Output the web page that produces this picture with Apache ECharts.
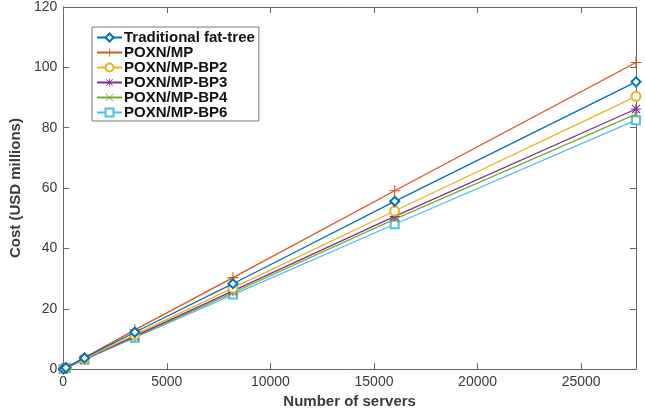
<!DOCTYPE html>
<html>
<head>
<meta charset="utf-8">
<script src="https://cdn.jsdelivr.net/npm/echarts@6/dist/echarts.min.js"></script>
<style>html,body{margin:0;padding:0;background:#fff}#c{width:645px;height:414px}</style>
</head>
<body>
<div id="c"></div>
<script>
const servers = [16, 128, 1024, 3456, 8192, 16000, 27648];
const seriesNames = ['Traditional fat-tree', 'POXN/MP', 'POXN/MP-BP2', 'POXN/MP-BP3', 'POXN/MP-BP4', 'POXN/MP-BP6'];
const traditional = [0.06, 0.46, 3.7, 12.2, 28.3, 55.6, 95.2];
const poxnMP = [0.06, 0.48, 3.8, 13.0, 30.3, 59.1, 101.6];
const poxnBP2 = [0.05, 0.43, 3.4, 11.4, 26.9, 52.4, 90.4];
const poxnBP3 = [0.05, 0.41, 3.3, 10.9, 25.9, 50.6, 86.2];
const poxnBP4 = [0.05, 0.40, 3.2, 10.7, 25.3, 49.7, 84.5];
const poxnBP6 = [0.05, 0.39, 3.1, 10.4, 24.7, 48.0, 82.5];
const yTicks = [0, 20, 40, 60, 80, 100, 120];
const xTicks = [0, 5000, 10000, 15000, 20000, 25000];

const colors = ['#0072BD', '#D95319', '#EDB120', '#7E2F8E', '#77AC30', '#4DBEEE'];
const plusPath = 'path://M0,4.5 L10,4.5 L10,5.5 L0,5.5 Z M4.5,0 L5.5,0 L5.5,10 L4.5,10 Z';
const xPath = 'path://M0.7,0 L5,4.3 L9.3,0 L10,0.7 L5.7,5 L10,9.3 L9.3,10 L5,5.7 L0.7,10 L0,9.3 L4.3,5 L0,0.7 Z';
const starPath = 'path://M0,4.5 L10,4.5 L10,5.5 L0,5.5 Z M4.5,0 L5.5,0 L5.5,10 L4.5,10 Z M1.3,0.6 L5,4.3 L8.7,0.6 L9.4,1.3 L5.7,5 L9.4,8.7 L8.7,9.4 L5,5.7 L1.3,9.4 L0.6,8.7 L4.3,5 L0.6,1.3 Z';
const symbols = ['emptyDiamond', plusPath, 'emptyCircle', starPath, xPath, 'emptyRect'];
const symSizes = [9, 11, 9, 10, 8, 8];
const symBorder = [1, 0, 1, 0, 0, 1];
const dataSets = [traditional, poxnMP, poxnBP2, poxnBP3, poxnBP4, poxnBP6];

const axisCol = '#666';
const labelCol = '#3a3a3a';

function axisBase(extra) {
  return Object.assign({
    type: 'value',
    axisLine: {show: true, onZero: false, lineStyle: {color: axisCol}},
    axisTick: {show: true, inside: true, length: 6, lineStyle: {color: axisCol}},
    splitLine: {show: false}
  }, extra);
}

const chart = echarts.init(document.getElementById('c'), null, {renderer: 'canvas'});
chart.setOption({
  animation: false,
  backgroundColor: '#fff',
  textStyle: {fontFamily: 'Liberation Sans, Arial, sans-serif'},
  grid: {left: 62, right: 9, top: 6, bottom: 42, containLabel: false},
  legend: {
    orient: 'vertical', left: 92, top: 27,
    padding: [3, 4, 1, 4],
    itemGap: 0, itemWidth: 25, itemHeight: 10,
    borderColor: '#777', borderWidth: 1, backgroundColor: '#fff',
    textStyle: {fontSize: 15, fontWeight: 'bold', color: '#111', lineHeight: 14, padding: [0, 0, 0, -3]},
    data: seriesNames
  },
  xAxis: [axisBase({
    min: 0, max: 27648, interval: 5000,
    name: 'Number of servers', nameLocation: 'middle', nameGap: 15,
    nameTextStyle: {fontSize: 15, fontWeight: 'bold', color: labelCol},
    axisLabel: {fontSize: 14, color: labelCol, margin: 6,
      formatter: v => (xTicks.indexOf(v) >= 0 ? String(v) : '')}
  }), axisBase({
    min: 0, max: 27648, interval: 5000, position: 'top',
    axisLabel: {show: false}
  })],
  yAxis: [axisBase({
    min: 0, max: 120, interval: 20,
    name: 'Cost (USD millions)', nameLocation: 'middle', nameGap: 33,
    nameTextStyle: {fontSize: 15, fontWeight: 'bold', color: labelCol},
    axisLabel: {fontSize: 14, color: labelCol, margin: 6,
      formatter: v => (yTicks.indexOf(v) >= 0 ? String(v) : '')}
  }), axisBase({
    min: 0, max: 120, interval: 20, position: 'right',
    axisLabel: {show: false}
  })],
  series: seriesNames.map((n, i) => ({
    name: n, type: 'line', xAxisIndex: 0, yAxisIndex: 0,
    data: servers.map((s, j) => [s, dataSets[i][j]]),
    symbol: symbols[i], symbolSize: symSizes[i], showSymbol: true,
    lineStyle: {width: 1.3, color: colors[i]},
    itemStyle: {color: colors[i], borderColor: colors[i], borderWidth: symBorder[i]},
    z: 2 + (5 - i)
  }))
});
</script>
</body>
</html>
